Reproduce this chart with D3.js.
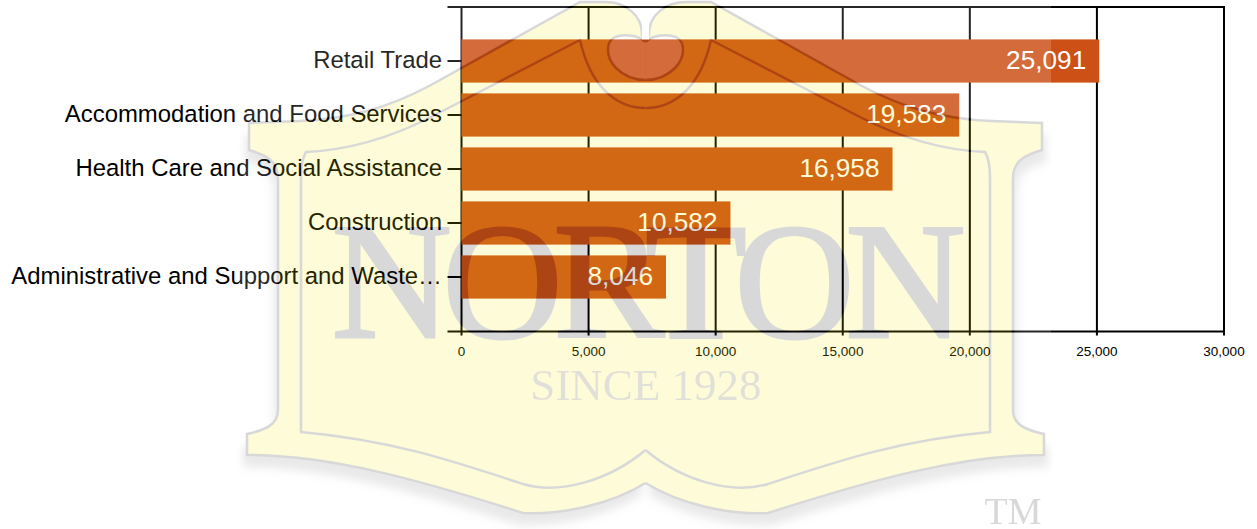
<!DOCTYPE html>
<html>
<head>
<meta charset="utf-8">
<script src="https://cdn.jsdelivr.net/npm/d3@7"></script>
<style>
html,body{margin:0;padding:0;background:#fff;overflow:hidden}
svg{display:block}
text{font-family:"Liberation Sans",Arial,sans-serif}
</style>
</head>
<body>
<svg id="c" width="1257" height="529"></svg>
<script>
const categories = ["Retail Trade","Accommodation and Food Services","Health Care and Social Assistance","Construction","Administrative and Support and Waste…"];
const values = [25091,19583,16958,10582,8046];
const tickValues = [0,5000,10000,15000,20000,25000,30000];

const svg = d3.select("#c");
const x = d3.scaleLinear().domain([0,30000]).range([461.5,1224]);
const y = d3.scaleBand().domain(categories).range([34,304]).paddingInner(0.2).paddingOuter(0.1);
const top_ = 7, bottom = 331.5, tickStart = 447.5;
const barColor = "#cd5117";
const lineW = 2;

svg.append("g").selectAll("line").data(tickValues).join("line")
  .attr("x1",d=>x(d)).attr("x2",d=>x(d)).attr("y1",top_).attr("y2",bottom+4)
  .attr("stroke","#000").attr("stroke-width",lineW);
[top_,bottom].forEach(v=>svg.append("line").attr("x1",tickStart).attr("x2",x(30000)+1)
  .attr("y1",v).attr("y2",v).attr("stroke","#000").attr("stroke-width",lineW));

svg.append("g").selectAll("rect").data(values).join("rect")
  .attr("x",x(0)).attr("y",(d,i)=>y(categories[i]))
  .attr("width",d=>x(d)-x(0)).attr("height",y.bandwidth()).attr("fill",barColor);

const yAxis = svg.append("g");
yAxis.selectAll("line").data(categories).join("line")
  .attr("x1",tickStart).attr("x2",x(0))
  .attr("y1",d=>y(d)+y.bandwidth()/2).attr("y2",d=>y(d)+y.bandwidth()/2)
  .attr("stroke","#000").attr("stroke-width",lineW);
yAxis.selectAll("text").data(categories).join("text")
  .attr("x",442).attr("y",d=>y(d)+y.bandwidth()/2+6.5)
  .attr("text-anchor","end").attr("font-size",23.9).attr("fill","#000").text(d=>d);

svg.append("g").selectAll("text").data(values).join("text")
  .attr("x",d=>x(d)-13).attr("y",(d,i)=>y(categories[i])+y.bandwidth()/2+8)
  .attr("text-anchor","end").attr("font-size",26.2).attr("fill","#fff").text(d3.format(","));

svg.append("g").selectAll("text").data(tickValues).join("text")
  .attr("x",d=>x(d)).attr("y",356).attr("text-anchor","middle")
  .attr("font-size",13.5).attr("fill","#000").text(d3.format(","));

// translucent watermark laid over the chart
const defs = svg.append("defs");
defs.append("filter").attr("id","blur").attr("x","-10%").attr("y","-10%").attr("width","120%").attr("height","120%")
  .append("feGaussianBlur").attr("stdDeviation",4);
const wm = svg.append("g").attr("opacity",0.15);
wm.append("rect").attr("x",240).attr("y",0).attr("width",811).attr("height",529).attr("fill","#fff");

const outerHalf = "M642,36 C643,15 625,2 605,2 L580,2 L431,85 C390,107 350,119 300,121 L249,123 L249,150 C265,155 278,160 278,178 L278,410 C278,425 265,430 247,434 L247,455 C330,455 420,480 523,513 C560,515 610,505 645.5,483";
const innerHalf = "M645.5,108 C615,108 590,85 580,40 L431,117 C390,138 350,150 306,152 Q301,160 301,178 L301,432 C390,440 450,460 523,484 C560,495 610,480 645.5,450";
const knobHalf = "M645.5,42 C640,36 625,33 615,37 C605,42 606,58 616,68 C625,77 635,80 645.5,80";
const sides = [null,"translate(1291,0) scale(-1,1)"];

sides.forEach(t=>{
  wm.append("path").attr("d",outerHalf+" L645.5,36 Z").attr("fill","#000").attr("opacity",0.55)
    .attr("transform",(t?t+" ":"")+"translate(-4,12)").attr("filter","url(#blur)");
});
sides.forEach(t=>{
  const g = wm.append("g").attr("transform",t);
  g.append("path").attr("d",outerHalf+" L645.5,36 Z").attr("fill","#f2eb00");
  g.append("path").attr("d",outerHalf).attr("fill","none").attr("stroke","#000").attr("stroke-width",2.5);
  g.append("path").attr("d",innerHalf).attr("fill","none").attr("stroke","#000").attr("stroke-width",2.5);
  g.append("path").attr("d",knobHalf+" Z").attr("fill","#fff");
  g.append("path").attr("d",knobHalf).attr("fill","none").attr("stroke","#000").attr("stroke-width",2.5);
  g.append("path").attr("d","M642,2 L645.5,2 L645.5,40 L642,40 Z").attr("fill","#fff");
});

wm.append("text").attr("x",644).attr("y",337).attr("text-anchor","middle")
  .attr("font-size",166).attr("letter-spacing",-9).attr("stroke","#000").attr("stroke-width",3)
  .style("font-family","'Liberation Serif',serif").attr("fill","#000").text("NORTON");
wm.append("text").attr("x",646).attr("y",400).attr("text-anchor","middle")
  .attr("font-size",45).style("font-family","'Liberation Serif',serif").attr("fill","#000").attr("opacity",0.75).text("SINCE 1928");
wm.append("text").attr("x",1013).attr("y",524).attr("text-anchor","middle")
  .attr("font-size",38).style("font-family","'Liberation Serif',serif").attr("fill","#000").text("TM");
</script>
</body>
</html>
